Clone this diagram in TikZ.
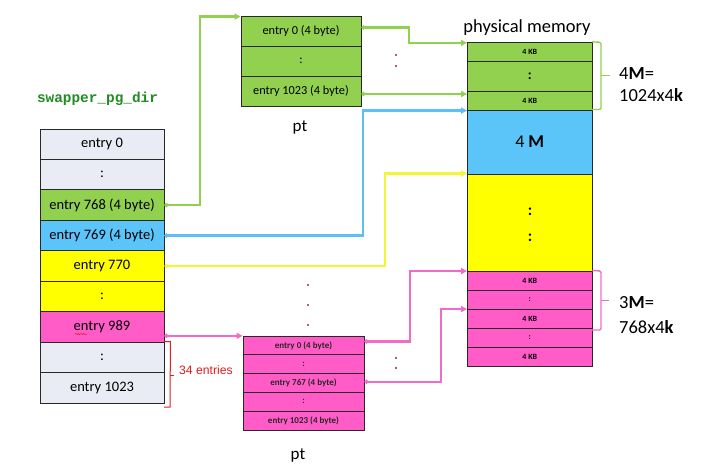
\documentclass[tikz,border=0pt]{standalone}
\usepackage{fontspec}
\setmainfont{Carlito}
\newfontfamily\arialf{Liberation Sans}
\newfontfamily\monof{Liberation Mono}
\usetikzlibrary{arrows.meta,decorations.pathmorphing,calc}
\definecolor{cgray}{RGB}{233,235,245}
\definecolor{cgreen}{RGB}{146,208,80}
\definecolor{cblue}{RGB}{91,197,250}
\definecolor{cyellow}{RGB}{255,255,0}
\definecolor{cpink}{RGB}{255,92,200}
\definecolor{cedge}{RGB}{40,40,40}
\definecolor{lgreen}{RGB}{146,208,80}
\definecolor{lblue}{RGB}{91,192,248}
\definecolor{lyellow}{RGB}{245,245,50}
\definecolor{lpink}{RGB}{240,108,200}
\definecolor{ctitle}{RGB}{34,139,34}
\definecolor{cred}{RGB}{225,30,30}
\definecolor{cdot}{RGB}{160,40,40}
\tikzset{
  lcell/.style={draw=cedge, line width=0.9pt, minimum width=124pt, minimum height=30.44pt, inner sep=0pt, font=\fontsize{14.5}{16}\selectfont},
  tcell/.style={draw=cedge, line width=0.9pt, minimum width=120pt, minimum height=30pt, inner sep=0pt, fill=cgreen, font=\fontsize{12.3}{14}\selectfont},
  bcell/.style={draw=cedge, line width=0.9pt, minimum width=121pt, minimum height=18.8pt, inner sep=0pt, fill=cpink, font=\fontsize{9}{10}\selectfont\bfseries, text=black!85},
  pcell/.style={draw=cedge, line width=0.9pt, minimum width=124.5pt, inner sep=0pt},
  kb/.style={font=\fontsize{8}{9}\selectfont\bfseries},
  conn/.style={line width=2.2pt, {Circle[length=4pt]}-{Triangle[length=6pt,width=6pt]}},
  brace/.style={line width=1.4pt, rounded corners=1.5pt},
  big/.style={font=\fontsize{18.5}{20}\selectfont, inner sep=0pt},
}
\begin{document}
\begin{tikzpicture}[x=1pt,y=-1pt]
\useasboundingbox[fill=white] (0,0) rectangle (703,467);
% left table
\node[lcell, fill=cgray]   (l0)    at (102,144.22) {entry 0};
\node[lcell, fill=cgray]   (l1)    at (102,174.66) {:};
\node[lcell, fill=cgreen]  (l768)  at (102,205.10) {entry 768 (4 byte)};
\node[lcell, fill=cblue]   (l769)  at (102,235.54) {entry 769 (4 byte)};
\node[lcell, fill=cyellow] (l770)  at (102,265.98) {entry 770};
\node[lcell, fill=cyellow] (l5)    at (102,296.42) {:};
\node[lcell, fill=cpink]   (l989)  at (102,326.86) {entry 989};
\node[lcell, fill=cgray]   (l7)    at (102,357.30) {:};
\node[lcell, fill=cgray]   (l1023) at (102,387.74) {entry 1023};
\draw[cred, line width=0.5pt, decorate, decoration={snake, amplitude=0.6pt, segment length=2.6pt}] (75,334) -- (87,334);
\node[font=\monof\bfseries\fontsize{14.4}{16}\selectfont, text=ctitle, inner sep=0pt] (title) at (97.5,99) {swapper\_pg\_dir};
% 34 entries bracket
\draw[cred, line width=1pt] (l7.north east) -- ++(6,0) -- (170,407) -- (164,407);
\draw[cred, line width=1pt] (170,375) -- (174,375);
\node[font=\arialf\fontsize{12.2}{13}\selectfont, text=cred, anchor=west, inner sep=0pt] (n34) at (179,370) {34 entries};
% top pt
\node[tcell] (pt1a) at (301,31) {entry 0 (4 byte)};
\node[tcell] (pt1b) at (301,61) {:};
\node[tcell] (pt1c) at (301,91) {entry 1023 (4 byte)};
\node[font=\fontsize{17}{18}\selectfont, inner sep=0pt] (ptlab1) at (300,127) {pt};
% bottom pt
\node[bcell] (pt2a) at (303.5,345.4) {entry 0 (4 byte)};
\node[bcell] (pt2b) at (303.5,364.2) {:};
\node[bcell] (pt2c) at (303.5,383.0) {entry 767 (4 byte)};
\node[bcell] (pt2d) at (303.5,401.8) {:};
\node[bcell] (pt2e) at (303.5,420.6) {entry 1023 (4 byte)};
\node[font=\fontsize{17}{18}\selectfont, inner sep=0pt] (ptlab2) at (298,455) {pt};
% physical memory
\node[big] (pmlab) at (527,28) {physical memory};
\node[pcell, fill=cgreen, minimum height=19.4pt, kb] (pm1) at (529.75,52.0) {4 KB};
\node[pcell, fill=cgreen, minimum height=29.6pt, font=\fontsize{14}{15}\selectfont\bfseries] (pm2) at (529.75,76.5) {:};
\node[pcell, fill=cgreen, minimum height=18.7pt, kb] (pm3) at (529.75,100.65) {4 KB};
\node[pcell, fill=cblue, minimum height=64pt, font=\fontsize{18}{20}\selectfont] (pmB) at (529.75,142) {4 \textbf{M}};
\node[pcell, fill=cyellow, minimum height=97pt] (pmY) at (529.75,222.5) {};
\node[font=\fontsize{16}{18}\selectfont\bfseries, inner sep=0pt] (yd1) at (530,211.5) {:};
\node[font=\fontsize{16}{18}\selectfont\bfseries, inner sep=0pt] (yd2) at (530,238) {:};
\node[pcell, fill=cpink, minimum height=19pt, kb] (pmP1) at (529.75,280.5) {4 KB};
\node[pcell, fill=cpink, minimum height=19pt, kb] (pmP2) at (529.75,299.5) {:};
\node[pcell, fill=cpink, minimum height=19pt, kb] (pmP3) at (529.75,318.5) {4 KB};
\node[pcell, fill=cpink, minimum height=19pt, kb] (pmP4) at (529.75,337.5) {:};
\node[pcell, fill=cpink, minimum height=19pt, kb] (pmP5) at (529.75,356.5) {4 KB};
% braces
\draw[brace, lgreen] (pm1.north east) -- (601,42.3) -- (601,109.5) -- (592,109.5);
\draw[brace, lgreen] (601,75.7) -- (610,75.7);
\draw[brace, lpink] (pmP1.north east) -- (601,271) -- (601,330) -- (592,330);
\draw[brace, lpink] (601,300.7) -- (609,300.7);
\node[big, anchor=west] (m4a) at (619,73) {4\textbf{M}=};
\node[big, anchor=west] (m4b) at (619,95) {1024x4\textbf{k}};
\node[big, anchor=west] (m3a) at (619,303) {3\textbf{M}=};
\node[big, anchor=west] (m3b) at (619,327) {768x4\textbf{k}};
% dots
\fill[cdot] (396,55) circle (1.2) (396,66) circle (1.2);
\fill[cdot] (308,285) circle (1.2) (308,305) circle (1.2) (308,325) circle (1.2);
\fill[cdot] (396,358) circle (1.2) (396,368) circle (1.2);
% connectors
\draw[conn, lgreen] (l768.east) -- (200,205.1) |- ([yshift=-1pt]pt1a.north west);
\draw[conn, lgreen] ([yshift=3.5pt]pt1a.east) -- (409,27.5) |- ([yshift=-1pt]pm1.north west);
\draw[conn, lgreen] ([yshift=-3pt]pt1c.east) -- ([yshift=-3pt]pt1c.east -| pm3.west);
\draw[conn, lblue] (l769.east) -- (363,235.54) |- ([yshift=-1pt]pmB.north west);
\draw[conn, lyellow] (l770.east) -- (385,265.98) |- (pmY.north west);
\draw[conn, lpink] ([yshift=-9pt]l989.east) -- ([yshift=-9pt]l989.east -| pt2a.west);
\draw[conn, lpink] ([yshift=4pt]pt2a.east) -- (410,341.4) |- ([yshift=-0.5pt]pmP1.north west);
\draw[conn, lpink] ([yshift=1.3pt]pt2c.east) -- (441,381.7) |- ([yshift=-0.5pt]pmP3.north west);
\end{tikzpicture}
\end{document}
